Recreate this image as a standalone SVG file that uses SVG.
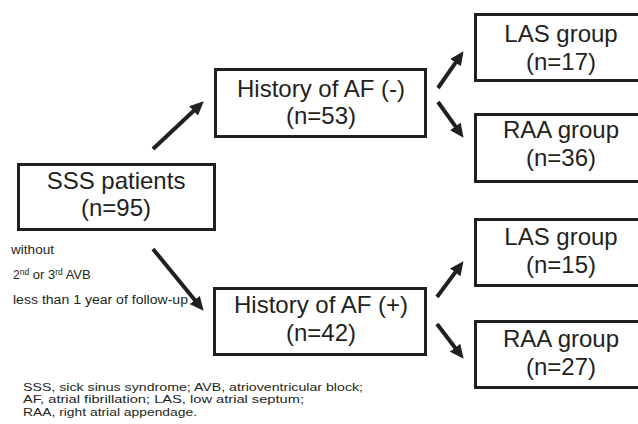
<svg xmlns="http://www.w3.org/2000/svg" width="638" height="424" viewBox="0 0 638 424">
<style>
.box{fill:#fff;stroke:#231f20;stroke-width:3}
.big{font-family:"Liberation Sans",Arial,sans-serif;font-size:24px;fill:#231f20;text-anchor:middle}
.small{font-family:"Liberation Sans",Arial,sans-serif;font-size:12px;fill:#231f20}
.note{font-family:"Liberation Sans",Arial,sans-serif;font-size:11px;fill:#231f20}
.arr{stroke:#231f20;stroke-width:4;fill:none;marker-end:url(#ah)}
</style>
<defs>
<marker id="ah" markerUnits="userSpaceOnUse" markerWidth="14" markerHeight="13" refX="1" refY="6.5" orient="auto">
<path d="M0,0 L14,6.5 L0,13 z" fill="#231f20"/>
</marker>
</defs>
<rect width="638" height="424" fill="#fff"/>
<g id="connectors">
<line class="arr" x1="153" y1="149" x2="194.3" y2="110.2"/>
<line class="arr" x1="153" y1="249" x2="195.4" y2="300.7"/>
<line class="arr" x1="438" y1="88" x2="456.1" y2="61.9"/>
<line class="arr" x1="438" y1="102" x2="456" y2="127.2"/>
<line class="arr" x1="437" y1="297" x2="455.8" y2="271.6"/>
<line class="arr" x1="437" y1="324" x2="455.7" y2="348.5"/>
</g>
<g id="sss">
<rect class="box" x="18.5" y="164.5" width="196" height="65"/>
<text class="big" x="116" y="189">SSS patients</text>
<text class="big" x="116" y="216">(n=95)</text>
</g>
<g id="af-neg">
<rect class="box" x="215.5" y="69.5" width="210" height="67"/>
<text class="big" x="321" y="97">History of AF (-)</text>
<text class="big" x="321" y="124">(n=53)</text>
</g>
<g id="af-pos">
<rect class="box" x="214.5" y="288.5" width="211" height="66"/>
<text class="big" x="321" y="313">History of AF (+)</text>
<text class="big" x="321" y="341">(n=42)</text>
</g>
<g id="las-1">
<rect class="box" x="475.5" y="14.5" width="180" height="66"/>
<text class="big" x="561" y="42">LAS group</text>
<text class="big" x="561" y="70">(n=17)</text>
</g>
<g id="raa-1">
<rect class="box" x="475.5" y="114.5" width="180" height="67"/>
<text class="big" x="561" y="138">RAA group</text>
<text class="big" x="561" y="166">(n=36)</text>
</g>
<g id="las-2">
<rect class="box" x="475.5" y="219.5" width="180" height="66"/>
<text class="big" x="561" y="245">LAS group</text>
<text class="big" x="561" y="273">(n=15)</text>
</g>
<g id="raa-2">
<rect class="box" x="475.5" y="321.5" width="180" height="66"/>
<text class="big" x="561" y="347">RAA group</text>
<text class="big" x="561" y="375">(n=27)</text>
</g>
<g id="criteria">
<text class="small" x="11" y="254" textLength="43" lengthAdjust="spacingAndGlyphs">without</text>
<text class="small" x="13" y="279">2<tspan font-size="8.5" dy="-4.5">nd</tspan><tspan dy="4.5" font-size="13"> or 3</tspan><tspan font-size="8.5" dy="-4.5">rd</tspan><tspan dy="4.5" font-size="13"> AVB</tspan></text>
<text class="small" x="13" y="304" textLength="175" lengthAdjust="spacingAndGlyphs">less than 1 year of follow-up</text>
</g>
<g id="footnote">
<text class="note" x="23" y="390.5" textLength="340" lengthAdjust="spacingAndGlyphs">SSS, sick sinus syndrome; AVB, atrioventricular block;</text>
<text class="note" x="23" y="403" textLength="281" lengthAdjust="spacingAndGlyphs">AF, atrial fibrillation; LAS, low atrial septum;</text>
<text class="note" x="23" y="415.5" textLength="174" lengthAdjust="spacingAndGlyphs">RAA, right atrial appendage.</text>
</g>
</svg>
